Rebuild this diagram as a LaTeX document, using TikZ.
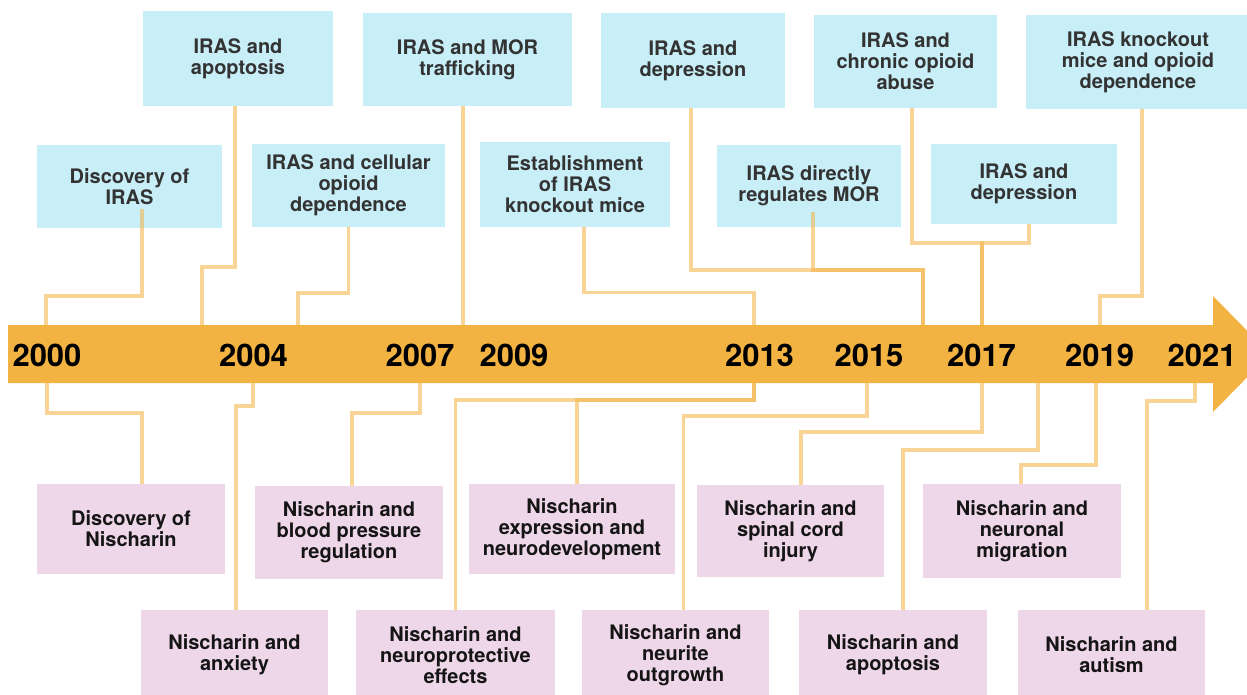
\documentclass[tikz,border=0pt]{standalone}
\usepackage{fontspec}
\setmainfont{TeX Gyre Heros}
\usetikzlibrary{calc,positioning}
\definecolor{barorange}{HTML}{F2B342}
\definecolor{irasblue}{HTML}{C8EEF7}
\definecolor{nispink}{HTML}{EFD7EA}
\definecolor{irastext}{HTML}{333333}
\definecolor{nistext}{HTML}{151515}
\tikzset{
	timeline/.style={x=1pt, y=-1pt,
		font={\fontsize{20}{21}\selectfont\bfseries}},
	ev/.style={align=center, inner sep=0pt, outer sep=0pt},
	iras/.style 2 args={ev, fill=irasblue, text=irastext,
		minimum width=#1, minimum height=#2},
	nis/.style 2 args={ev, fill=nispink, text=nistext,
		minimum width=#1, minimum height=#2},
	yr/.style={anchor=base, inner sep=0pt,
		font={\fontsize{31}{31}\selectfont\bfseries}},
	ln/.style={draw=barorange, draw opacity=.55, line width=3.6pt}
}

\begin{document}
\begin{tikzpicture}[timeline]
	\useasboundingbox (0,0) rectangle (1247,695);
	\clip (0,0) rectangle (1247,695);

	% IRAS events, upper row
	\node[iras={190pt}{95pt}] (ta1) at (238,58.5) {IRAS and\\apoptosis};
	\node[iras={209pt}{93pt}] (ta2) at (467.5,59.5) {IRAS and MOR\\trafficking};
	\node[iras={184pt}{95pt}] (ta3) at (693,60.5) {IRAS and\\depression};
	\node[iras={183pt}{93pt}] (ta4) at (905.5,61.5) {IRAS and\\chronic opioid\\abuse};
	\node[iras={224pt}{94pt}] (ta5) at (1138,62) {IRAS knockout\\mice and opioid\\dependence};
	% IRAS events, lower row
	\node[iras={185pt}{83pt}] (tb1) at (129.5,186.5) {Discovery of\\IRAS};
	\node[iras={193pt}{83pt}] (tb2) at (348.5,185.5) {IRAS and cellular\\opioid\\dependence};
	\node[iras={190pt}{84pt}] (tb3) at (575,184.5) {Establishment\\of IRAS\\knockout mice};
	\node[iras={184pt}{82pt}] (tb4) at (809,186) {IRAS directly\\regulates MOR};
	\node[iras={186pt}{80pt}] (tb5) at (1024,184) {IRAS and\\depression};

	% Nischarin events, upper row
	\node[nis={188pt}{90pt}] (ba1) at (131,529) {Discovery of\\Nischarin};
	\node[nis={188pt}{93pt}] (ba2) at (349,532.5) {Nischarin and\\blood pressure\\regulation};
	\node[nis={206pt}{90pt}] (ba3) at (572,529) {Nischarin\\expression and\\neurodevelopment};
	\node[nis={187pt}{92pt}] (ba4) at (790.5,531) {Nischarin and\\spinal cord\\injury};
	\node[nis={198pt}{94pt}] (ba5) at (1022,531) {Nischarin and\\neuronal\\migration};
	% Nischarin events, lower row
	\node[nis={187pt}{90pt}] (bb1) at (234.5,655) {Nischarin and\\anxiety};
	\node[nis={199pt}{90pt}] (bb2) at (455.5,655) {Nischarin and\\neuroprotective\\effects};
	\node[nis={187pt}{90pt}] (bb3) at (675.5,655) {Nischarin and\\neurite\\outgrowth};
	\node[nis={188pt}{90pt}] (bb4) at (893,655) {Nischarin and\\apoptosis};
	\node[nis={187pt}{90pt}] (bb5) at (1111.5,655) {Nischarin and\\autism};

	% time axis
	\fill[barorange] (8,325) -- (1213,325) -- (1213,296) -- (1270,354)
		-- (1213,412) -- (1213,383) -- (8,383) -- cycle;
	\foreach \n/\x in {1/46,2/202,3/298,4/463,5/754,6/923,7/982,8/1100}
		\coordinate (a\n) at (\x,325);
	\foreach \n/\x in {1/47,2/253,3/420,4/754,5/867,6/982,7/1038,8/1096,9/1195}
		\coordinate (b\n) at (\x,383);

	% links above the axis
	\draw[ln] ([xshift=12.5pt,yshift=19pt]tb1.south) -- ++(0,87) -| (a1);
	\draw[ln] ([xshift=-3pt]ta1.south) -- ++(0,161) -| (a2);
	\draw[ln] (tb2.south) -- ++(0,66) -| (a3);
	\draw[ln] ([xshift=-4.5pt]ta2.south) -- (a4);
	\draw[ln] ([xshift=9pt]tb3.south) -- ++(0,66) -| (a5);
	\draw[ln] ([xshift=-2pt]ta3.south) -- ++(0,162) -| (a6);
	\draw[ln] ([xshift=4pt,yshift=15pt]tb4.south) -- ++(0,58) -| (a6);
	\draw[ln] ([xshift=6.5pt]ta4.south) -- ++(0,135) -| (a7);
	\draw[ln] ([xshift=5pt]tb5.south) -- ++(0,19) -| (a7);
	\draw[ln] ([xshift=4pt]ta5.south) -- ++(0,187) -| (a8);

	% links below the axis
	\draw[ln] (b1) -- ++(0,30) -| ([xshift=11pt]ba1.north);
	\draw[ln] (b2) -- ++(0,23) -| ([xshift=1.5pt]bb1.north);
	\draw[ln] (b3) -- ++(0,30) -| ([xshift=3pt]ba2.north);
	\draw[ln] (b4) -- ++(0,17) -| (bb2.north);
	\draw[ln] (b4) -- ++(0,17) -| ([xshift=5pt]ba3.north);
	\draw[ln] (b5) -- ++(0,33) -| ([xshift=8pt]bb3.north);
	\draw[ln] (b6) -- ++(0,49) -| ([xshift=10.5pt]ba4.north);
	\draw[ln] (b7) -- ++(0,67) -| ([xshift=10pt]bb4.north);
	\draw[ln] (b8) -- ++(0,82) -| ([xshift=-1pt]ba5.north);
	\draw[ln] (b9) -- ++(0,18) -| ([xshift=35.5pt]bb5.north);

	% years
	\foreach \yr/\x in {2000/47,2004/253.5,2007/420,2009/514,2013/759.5,
		2015/869,2017/981.5,2019/1099.5,2021/1202}
		\node[yr] (y\yr) at (\x,366) {\yr};
\end{tikzpicture}
\end{document}
